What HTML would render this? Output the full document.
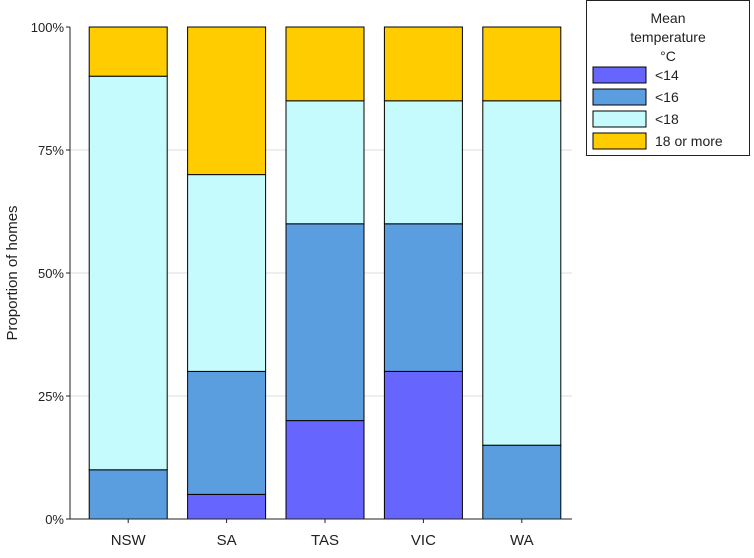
<!DOCTYPE html>
<html><head><meta charset="utf-8"><style>
body{margin:0;background:#fff;font-family:"Liberation Sans",sans-serif}
svg text{font-family:"Liberation Sans",sans-serif;fill:#222}
</style></head><body>
<svg id="c" width="754" height="553"></svg>
<script>
const categories=["NSW","SA","TAS","VIC","WA"];
const seriesNames=["<14","<16","<18","18 or more"];
const lt14=[0,5,20,30,0];
const lt16=[10,25,40,30,15];
const lt18=[80,40,25,25,70];
const ge18=[10,30,15,15,15];
const yTicks=[0,25,50,75,100];
const colors=["#6666ff","#5b9ee0","#c5fbfc","#ffcc00"];
const series=[lt14,lt16,lt18,ge18];
const NS="http://www.w3.org/2000/svg";
const svg=document.getElementById('c');
const L=70,R=572,T=27,B=519,XL=79,XR=571;
const y=v=>B-(B-T)*v/100;
const band=(XR-XL)/categories.length;
const x=i=>XL+band*i+band/2;
const bw=78;
function mk(t,a,p){const e=document.createElementNS(NS,t);for(const k in a)e.setAttribute(k,a[k]);(p||svg).appendChild(e);return e;}
yTicks.forEach(t=>{
  if(t>0&&t<100){const g=mk('line',{x1:L,x2:R,y1:y(t),y2:y(t),stroke:'#ddd','stroke-width':1});
  
  }
  const tx=mk('text',{x:L-6,y:y(t)+5,'text-anchor':'end','font-size':13});
  tx.textContent=t+'%';
  
  
  mk('line',{x1:L-4,x2:L,y1:y(t),y2:y(t),stroke:'#222'});
});
categories.forEach((c,i)=>{
  let acc=0;
  series.forEach((s,j)=>{
    const v=s[i];
    if(v>0){const r=mk('rect',{x:x(i)-bw/2,y:y(acc+v),width:bw,height:y(acc)-y(acc+v),fill:colors[j],stroke:'#000','stroke-width':1});
    
    }
    acc+=v;
  });
  const t=mk('text',{x:x(i),y:545,'text-anchor':'middle','font-size':15});
  t.textContent=c;
  
  
  mk('line',{x1:x(i),x2:x(i),y1:B,y2:B+4,stroke:'#222'});
});
const ax=mk('line',{x1:L,x2:L,y1:T,y2:B,stroke:'#222'});

const bx=mk('line',{x1:L,x2:R,y1:B,y2:B,stroke:'#222'});

const yt=mk('text',{x:0,y:0,transform:'translate(17,273) rotate(-90)','text-anchor':'middle','font-size':15});
yt.textContent='Proportion of homes';

const lg=mk('g',{});

mk('rect',{x:586.5,y:0.5,width:163,height:155,fill:'#fff',stroke:'#222'},lg);
["Mean","temperature","°C"].forEach((s,k)=>{const t=mk('text',{x:668,y:23+k*19,'text-anchor':'middle','font-size':14},lg);t.textContent=s;});
seriesNames.forEach((n,j)=>{
  const cy=75+j*22;
  const r=mk('rect',{x:593,y:cy-8,width:53,height:16,fill:colors[j],stroke:'#000'},lg);
  
  const t=mk('text',{x:655,y:cy+5,'font-size':14},lg);t.textContent=n;
  
});
</script>
</body></html>
